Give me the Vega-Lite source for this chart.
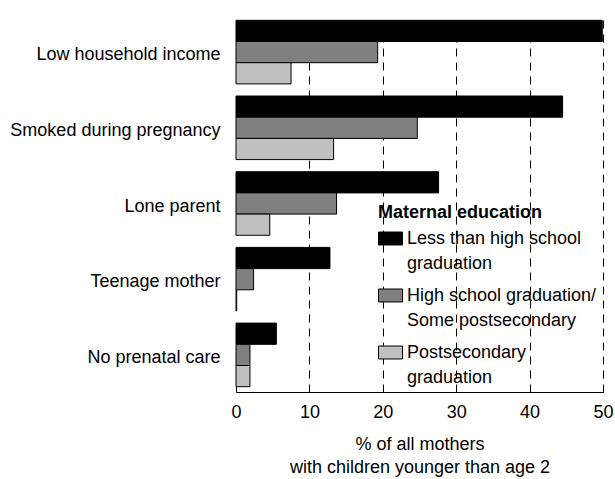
{
  "$schema": "https://vega.github.io/schema/vega-lite/v6.json",
  "width": 367,
  "height": 377,
  "autosize": {"type": "none"},
  "padding": {"left": 236, "top": 15, "right": 12, "bottom": 87},
  "background": "white",
  "data": {
    "values": [
      {"risk": "Low household income", "edu": "Less than high school graduation", "pct": 49.9},
      {"risk": "Low household income", "edu": "High school graduation/Some postsecondary", "pct": 19.3},
      {"risk": "Low household income", "edu": "Postsecondary graduation", "pct": 7.5},
      {"risk": "Smoked during pregnancy", "edu": "Less than high school graduation", "pct": 44.5},
      {"risk": "Smoked during pregnancy", "edu": "High school graduation/Some postsecondary", "pct": 24.7},
      {"risk": "Smoked during pregnancy", "edu": "Postsecondary graduation", "pct": 13.3},
      {"risk": "Lone parent", "edu": "Less than high school graduation", "pct": 27.6},
      {"risk": "Lone parent", "edu": "High school graduation/Some postsecondary", "pct": 13.7},
      {"risk": "Lone parent", "edu": "Postsecondary graduation", "pct": 4.6},
      {"risk": "Teenage mother", "edu": "Less than high school graduation", "pct": 12.8},
      {"risk": "Teenage mother", "edu": "High school graduation/Some postsecondary", "pct": 2.4},
      {"risk": "Teenage mother", "edu": "Postsecondary graduation", "pct": 0.1},
      {"risk": "No prenatal care", "edu": "Less than high school graduation", "pct": 5.5},
      {"risk": "No prenatal care", "edu": "High school graduation/Some postsecondary", "pct": 1.9},
      {"risk": "No prenatal care", "edu": "Postsecondary graduation", "pct": 1.9}
    ]
  },
  "mark": {"type": "bar", "stroke": "black", "strokeWidth": 1},
  "encoding": {
    "y": {
      "field": "risk",
      "type": "nominal",
      "sort": ["Low household income", "Smoked during pregnancy", "Lone parent", "Teenage mother", "No prenatal care"],
      "scale": {"paddingInner": 0.16, "paddingOuter": 0.07},
      "axis": {
        "title": null,
        "domain": false,
        "ticks": false,
        "labelFontSize": 18,
        "labelPadding": 16,
        "labelOffset": 3,
        "labelColor": "black",
        "labelLimit": 300
      }
    },
    "yOffset": {
      "field": "edu",
      "type": "nominal",
      "sort": ["Less than high school graduation", "High school graduation/Some postsecondary", "Postsecondary graduation"],
      "scale": {"paddingInner": 0, "paddingOuter": 0}
    },
    "x": {
      "field": "pct",
      "type": "quantitative",
      "scale": {"domain": [0, 50], "nice": false},
      "axis": {
        "values": [0, 10, 20, 30, 40, 50],
        "grid": true,
        "gridColor": "black",
        "gridDash": [8, 6],
        "gridWidth": 1,
        "gridOpacity": {"condition": {"test": "datum.value == 0", "value": 0}, "value": 1},
        "domainColor": "black",
        "tickColor": "black",
        "tickSize": -6,
        "labelFlush": false,
        "labelPadding": 17,
        "labelFontSize": 18,
        "labelColor": "black",
        "title": ["% of all mothers", "with children younger than age 2"],
        "titleFontSize": 18,
        "titleFontWeight": "normal",
        "titleColor": "black",
        "titlePadding": 14
      }
    },
    "color": {
      "field": "edu",
      "type": "nominal",
      "scale": {
        "domain": ["Less than high school graduation", "High school graduation/Some postsecondary", "Postsecondary graduation"],
        "range": ["#000000", "#808080", "#c0c0c0"]
      },
      "legend": {
        "orient": "none",
        "legendX": 142,
        "legendY": 189,
        "padding": 0,
        "title": "Maternal education",
        "titleFontSize": 18,
        "titleFontWeight": "bold",
        "titleColor": "black",
        "titlePadding": 4,
        "labelFontSize": 18,
        "labelColor": "black",
        "labelLimit": 300,
        "labelOffset": 4,
        "rowPadding": 10,
        "symbolType": "M-1,-0.54H1V0.54H-1Z",
        "symbolSize": 576,
        "symbolStrokeColor": "black",
        "symbolStrokeWidth": 1,
        "symbolOpacity": 1,
        "labelExpr": "datum.label == 'Less than high school graduation' ? ['Less than high school', 'graduation'] : datum.label == 'High school graduation/Some postsecondary' ? ['High school graduation/', 'Some postsecondary'] : ['Postsecondary', 'graduation']"
      }
    }
  },
  "config": {
    "font": "Liberation Sans",
    "view": {"stroke": null},
    "style": {
      "guide-label": {"lineHeight": 25},
      "guide-title": {"lineHeight": 23}
    }
  }
}
